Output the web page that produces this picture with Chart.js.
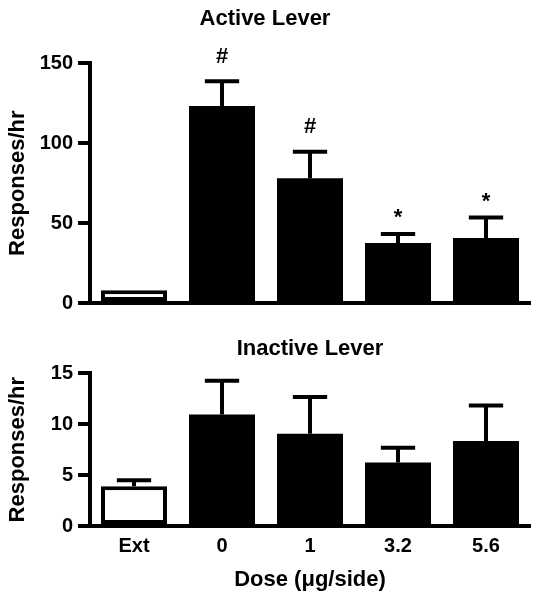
<!DOCTYPE html>
<html>
<head>
<meta charset="utf-8">
<script src="https://cdn.jsdelivr.net/npm/chart.js@4.4.0/dist/chart.umd.min.js"></script>
<style>
    html, body { margin: 0; padding: 0; background: #fff; }
    #wrap { position: relative; width: 539px; height: 600px; }
    .panel { position: absolute; left: 0; width: 539px; }
    #activePanel { top: 0; height: 320px; }
    #inactivePanel { top: 320px; height: 280px; }
</style>
</head>
<body>
<div id="wrap">
    <div class="panel" id="activePanel"><canvas id="chartActive" width="539" height="320"></canvas></div>
    <div class="panel" id="inactivePanel"><canvas id="chartInactive" width="539" height="280"></canvas></div>
</div>
<script>
var doseLabels = ['Ext', '0', '1', '3.2', '5.6'];
var barFill = ['#ffffff', '#000000', '#000000', '#000000', '#000000'];
var barBorder = [4, 0, 0, 0, 0];

var activeMean = [8, 123.3, 78.1, 37.6, 40.7];
var activeSem = [0, 15.4, 16.5, 5.6, 12.8];
var activeMarks = ['', '#', '#', '*', '*'];
var activeTicks = [0, 50, 100, 150];

var inactiveMean = [3.9, 10.96, 9.06, 6.23, 8.34];
var inactiveSem = [0.6, 3.3, 3.6, 1.46, 3.5];
var inactiveMarks = ['', '', '', '', ''];
var inactiveTicks = [0, 5, 10, 15];

Chart.defaults.font.family = '"Liberation Sans", Arial, Helvetica, sans-serif';
Chart.defaults.color = '#000';

// mean + SEM whisker (upward only) and significance marks
function errorBars(sem, marks) {
    return {
        id: 'errorBars',
        afterDatasetsDraw: function (chart) {
            var ctx = chart.ctx;
            var yScale = chart.scales.y;
            var means = chart.data.datasets[0].data;
            ctx.save();
            ctx.strokeStyle = '#000';
            ctx.fillStyle = '#000';
            ctx.lineWidth = 4;
            ctx.textAlign = 'center';
            ctx.textBaseline = 'middle';
            ctx.font = 'bold 22px "Liberation Sans", Arial, sans-serif';
            chart.getDatasetMeta(0).data.forEach(function (bar, i) {
                var top = yScale.getPixelForValue(means[i] + sem[i]);
                var half = bar.width * 0.26;
                if (sem[i] > 0) {
                    ctx.beginPath();
                    ctx.moveTo(bar.x, bar.y);
                    ctx.lineTo(bar.x, top);
                    ctx.moveTo(bar.x - half, top);
                    ctx.lineTo(bar.x + half, top);
                    ctx.stroke();
                }
                if (marks[i]) {
                    ctx.fillText(marks[i], bar.x, top - (marks[i] === '*' ? 16 : 24.5));
                }
            });
            ctx.restore();
        },
    };
}

function yAxis(ticks) {
    return {
        min: ticks[0],
        max: ticks[ticks.length - 1],
        afterBuildTicks: function (s) { s.ticks = ticks.map(function (v) { return { value: v }; }); },
        ticks: { padding: 5, font: { size: 20, weight: 'bold' } },
        grid: { drawOnChartArea: false, drawTicks: true, tickLength: 12, lineWidth: 4, color: '#000' },
        border: { color: '#000', width: 4 },
        title: {
            display: true,
            text: 'Responses/hr',
            font: { size: 22, weight: 'bold' },
            padding: { top: 5, bottom: 0 },
        },
        afterFit: function (s) { s.width = 90; },
    };
}

function barData(mean) {
    return {
        labels: doseLabels,
        datasets: [{
            data: mean,
            backgroundColor: barFill,
            borderColor: '#000',
            borderWidth: barBorder,
            borderSkipped: false,
            barPercentage: 0.75,
            categoryPercentage: 1,
        }],
    };
}

new Chart(document.getElementById('chartActive').getContext('2d'), {
    type: 'bar',
    data: barData(activeMean),
    plugins: [errorBars(activeSem, activeMarks)],
    options: {
        responsive: false,
        animation: false,
        layout: { padding: { left: 0, right: 9, top: 0, bottom: 0 } },
        plugins: {
            legend: { display: false },
            tooltip: { enabled: false },
            title: {
                display: true,
                text: 'Active Lever',
                fullSize: true,
                font: { size: 22, weight: 'bold' },
                padding: { top: 5.8, bottom: 31.1 },
            },
        },
        scales: {
            x: {
                offset: true,
                ticks: { display: false },
                grid: { drawOnChartArea: false, drawTicks: false },
                border: { color: '#000', width: 4 },
                afterFit: function (s) { s.height = 13.3; },
            },
            y: yAxis(activeTicks),
        },
    },
});

new Chart(document.getElementById('chartInactive').getContext('2d'), {
    type: 'bar',
    data: barData(inactiveMean),
    plugins: [errorBars(inactiveSem, inactiveMarks)],
    options: {
        responsive: false,
        animation: false,
        layout: { padding: { left: 0, right: 9, top: 0, bottom: 0 } },
        plugins: {
            legend: { display: false },
            tooltip: { enabled: false },
            title: {
                display: true,
                text: 'Inactive Lever',
                fullSize: false,
                font: { size: 22, weight: 'bold' },
                padding: { top: 15.3, bottom: 11.6 },
            },
        },
        scales: {
            x: {
                offset: true,
                ticks: { padding: 8.7, maxRotation: 0, autoSkip: false, font: { size: 20, weight: 'bold' } },
                grid: { drawOnChartArea: false, drawTicks: false },
                border: { color: '#000', width: 4 },
                title: {
                    display: true,
                    text: 'Dose (μg/side)',
                    font: { size: 22, weight: 'bold' },
                    padding: { top: 0, bottom: 6.8 },
                },
                afterFit: function (s) { s.height = 74; },
            },
            y: yAxis(inactiveTicks),
        },
    },
});
</script>
</body>
</html>
